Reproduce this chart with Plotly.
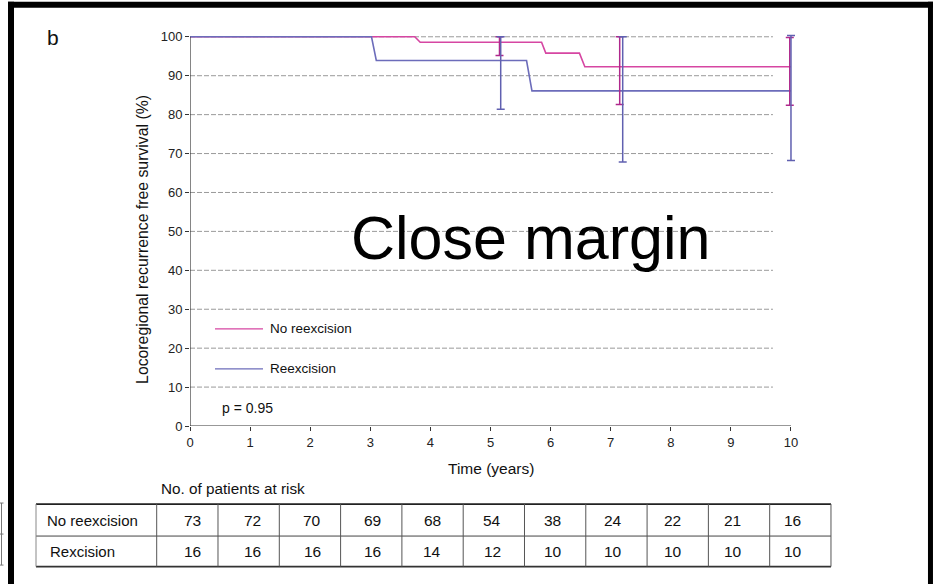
import plotly.graph_objects as go

# ---------------- data ----------------
series_names = ["No reexcision", "Reexcision"]
years_no = [0, 3.74, 3.83, 5.85, 5.92, 6.48, 6.57, 10]
surv_no = [100, 100, 98.6, 98.6, 95.8, 95.8, 92.3, 92.3]
years_re = [0, 3.02, 3.10, 5.60, 5.69, 10]
surv_re = [100, 100, 93.9, 93.9, 86.1, 86.1]

# confidence bars (x, centre, upper, lower)
ci_no_x = [5.15, 7.15, 9.98]
ci_no_y = [98.6, 92.3, 92.3]
ci_no_hi = [100, 100, 99.8]
ci_no_lo = [95.2, 82.6, 82.4]
ci_re_x = [5.17, 7.20, 10.0]
ci_re_y = [93.9, 86.1, 86.1]
ci_re_hi = [100, 100, 100.3]
ci_re_lo = [81.4, 67.8, 68.2]

x_ticks = list(range(0, 11))
y_ticks = list(range(0, 101, 10))
risk_rows = ["No reexcision", "Rexcision"]
risk_no = [73, 72, 70, 69, 68, 54, 38, 24, 22, 21, 16]
risk_re = [16, 16, 16, 16, 14, 12, 10, 10, 10, 10, 10]
p_text = "p = 0.95"

# ---------------- geometry ----------------
W, H = 933, 584
X0PX, X10PX = 190, 791
Y0PX, Y100PX = 426, 37
ppx = (X10PX - X0PX) / 10.0
ppy = (Y0PX - Y100PX) / 100.0
XR = [0, 10.2]
YR = [0, 102]
plot_w = (XR[1] - XR[0]) * ppx
plot_h = (YR[1] - YR[0]) * ppy
L = X0PX
R = W - L - plot_w
B = H - Y0PX
T = Y0PX - plot_h


def px(p):
    return (p - L) / plot_w


def py(q):
    return (Y0PX - q) / plot_h


C_NO = "rgb(214,70,162)"
C_RE = "rgb(108,108,186)"
C_NO_BAR = "rgb(176,40,140)"
C_RE_BAR = "rgb(96,96,176)"
FONT = "Liberation Sans, Arial, sans-serif"

fig = go.Figure()

fig.add_trace(go.Scatter(x=years_no, y=surv_no, mode="lines", name=series_names[0],
                         line=dict(color=C_NO, width=1.6), showlegend=False))
fig.add_trace(go.Scatter(x=years_re, y=surv_re, mode="lines", name=series_names[1],
                         line=dict(color=C_RE, width=1.6), showlegend=False))

fig.add_trace(go.Scatter(
    x=ci_no_x, y=ci_no_y, mode="markers", marker=dict(color="rgba(0,0,0,0)", size=1),
    error_y=dict(type="data", symmetric=False,
                 array=[h - c for h, c in zip(ci_no_hi, ci_no_y)],
                 arrayminus=[c - l for l, c in zip(ci_no_lo, ci_no_y)],
                 color=C_NO_BAR, thickness=1.5, width=4),
    showlegend=False, cliponaxis=False))
fig.add_trace(go.Scatter(
    x=ci_re_x, y=ci_re_y, mode="markers", marker=dict(color="rgba(0,0,0,0)", size=1),
    error_y=dict(type="data", symmetric=False,
                 array=[h - c for h, c in zip(ci_re_hi, ci_re_y)],
                 arrayminus=[c - l for l, c in zip(ci_re_lo, ci_re_y)],
                 color=C_RE_BAR, thickness=1.5, width=4),
    showlegend=False, cliponaxis=False))

shapes = []
# grid lines
for v in y_ticks[1:]:
    shapes.append(dict(type="line", xref="x", yref="y", x0=0, x1=9.7, y0=v, y1=v,
                       line=dict(color="#9a9a9a", width=1, dash="5px,2px"), layer="below"))
# axis lines
shapes.append(dict(type="line", xref="x", yref="y", x0=0, x1=10, y0=0, y1=0,
                   line=dict(color="#333", width=1.2)))
shapes.append(dict(type="line", xref="x", yref="y", x0=0, x1=0, y0=0, y1=100,
                   line=dict(color="#333", width=1.2)))
# legend samples
shapes.append(dict(type="line", xref="paper", yref="paper", x0=px(215), x1=px(263),
                   y0=py(329), y1=py(329), line=dict(color=C_NO, width=1.2)))
shapes.append(dict(type="line", xref="paper", yref="paper", x0=px(215), x1=px(263),
                   y0=py(369), y1=py(369), line=dict(color=C_RE, width=1.2)))

# risk table lines
TL, TR = 36, 831
TTOP, TMID, TBOT = 504, 536, 566.5
shapes.append(dict(type="line", xref="paper", yref="paper", x0=px(TL), x1=px(TR),
                   y0=py(TTOP), y1=py(TTOP), line=dict(color="#222", width=1.8)))
shapes.append(dict(type="line", xref="paper", yref="paper", x0=px(TL), x1=px(TR),
                   y0=py(TMID), y1=py(TMID), line=dict(color="#444", width=1)))
shapes.append(dict(type="line", xref="paper", yref="paper", x0=px(TL), x1=px(TR),
                   y0=py(TBOT), y1=py(TBOT), line=dict(color="#333", width=1.8)))
shapes.append(dict(type="line", xref="paper", yref="paper", x0=px(TL), x1=px(TL),
                   y0=py(TTOP), y1=py(TBOT), line=dict(color="#888", width=1)))
first_div = 156.7
step = (TR - first_div) / len(risk_no)
for k in range(len(risk_no) + 1):
    xd = first_div + k * step
    shapes.append(dict(type="line", xref="paper", yref="paper", x0=px(xd), x1=px(xd),
                       y0=py(TTOP), y1=py(TBOT), line=dict(color="#555", width=1)))

# page frame
shapes.append(dict(type="rect", xref="paper", yref="paper", x0=px(8), x1=px(933),
                   y0=py(2), y1=py(8), fillcolor="#000", line=dict(width=0)))
shapes.append(dict(type="rect", xref="paper", yref="paper", x0=px(8), x1=px(14),
                   y0=py(2), y1=py(584), fillcolor="#000", line=dict(width=0)))
shapes.append(dict(type="rect", xref="paper", yref="paper", x0=px(928), x1=px(933),
                   y0=py(2), y1=py(584), fillcolor="#000", line=dict(width=0)))
# fragment of neighbouring table at the left edge
shapes.append(dict(type="line", xref="paper", yref="paper", x0=px(1.5), x1=px(1.5),
                   y0=py(503), y1=py(565), line=dict(color="#777", width=1)))
for yy in (503, 534, 565):
    shapes.append(dict(type="line", xref="paper", yref="paper", x0=px(0), x1=px(3.5),
                       y0=py(yy), y1=py(yy), line=dict(color="#777", width=1)))

ann = []
ann.append(dict(text="b", xref="paper", yref="paper", x=px(53), y=py(38),
                xanchor="center", yanchor="middle", showarrow=False,
                font=dict(family=FONT, size=21, color="#111")))
ann.append(dict(text="Locoregional recurrence free survival (%)", xref="paper", yref="paper",
                x=px(143), y=py(240), textangle=-90, xanchor="center", yanchor="middle",
                showarrow=False, font=dict(family=FONT, size=15.8, color="#111")))
ann.append(dict(text="Time (years)", xref="paper", yref="paper", x=px(491), y=py(468),
                xanchor="center", yanchor="middle", showarrow=False,
                font=dict(family=FONT, size=15.5, color="#111")))
ann.append(dict(text="Close margin", xref="paper", yref="paper", x=px(531), y=py(238),
                xanchor="center", yanchor="middle", showarrow=False,
                font=dict(family=FONT, size=61, color="#000")))
ann.append(dict(text=series_names[0], xref="paper", yref="paper", x=px(268), y=py(329),
                xanchor="left", yanchor="middle", showarrow=False,
                font=dict(family=FONT, size=13.5, color="#111")))
ann.append(dict(text=series_names[1], xref="paper", yref="paper", x=px(268), y=py(369),
                xanchor="left", yanchor="middle", showarrow=False,
                font=dict(family=FONT, size=13.5, color="#111")))
ann.append(dict(text=p_text, xref="paper", yref="paper", x=px(220), y=py(408),
                xanchor="left", yanchor="middle", showarrow=False,
                font=dict(family=FONT, size=14, color="#111")))
ann.append(dict(text="No. of patients at risk", xref="paper", yref="paper", x=px(159), y=py(488),
                xanchor="left", yanchor="middle", showarrow=False,
                font=dict(family=FONT, size=15.3, color="#111")))
row_y = [(TTOP + TMID) / 2, (TMID + TBOT) / 2]
row_lx = [45, 48]
for r, (lab, vals) in enumerate(zip(risk_rows, [risk_no, risk_re])):
    ann.append(dict(text=lab, xref="paper", yref="paper", x=px(row_lx[r]), y=py(row_y[r]),
                    xanchor="left", yanchor="middle", showarrow=False,
                    font=dict(family=FONT, size=15, color="#111")))
    for xv, v in zip(x_ticks, vals):
        ann.append(dict(text=str(v), xref="x", yref="paper", x=xv, xshift=2, y=py(row_y[r]),
                        xanchor="center", yanchor="middle", showarrow=False,
                        font=dict(family=FONT, size=15.5, color="#111")))

fig.update_layout(
    width=W, height=H,
    margin=dict(l=L, r=R, t=T, b=B, pad=0, autoexpand=False),
    paper_bgcolor="white", plot_bgcolor="white",
    shapes=shapes, annotations=ann,
    xaxis=dict(range=XR, tickvals=x_ticks, ticktext=[str(v) for v in x_ticks],
               showgrid=False, zeroline=False, showline=False,
               ticks="outside", ticklen=4, tickcolor="#333", tickwidth=1,
               tickfont=dict(family=FONT, size=13, color="#222"), fixedrange=True),
    yaxis=dict(range=YR, tickvals=y_ticks, ticktext=[str(v) for v in y_ticks],
               showgrid=False, zeroline=False, showline=False,
               ticks="outside", ticklen=4, tickcolor="#333", tickwidth=1,
               tickfont=dict(family=FONT, size=13, color="#222"), fixedrange=True),
    showlegend=False,
)

fig.write_html("out.html")
